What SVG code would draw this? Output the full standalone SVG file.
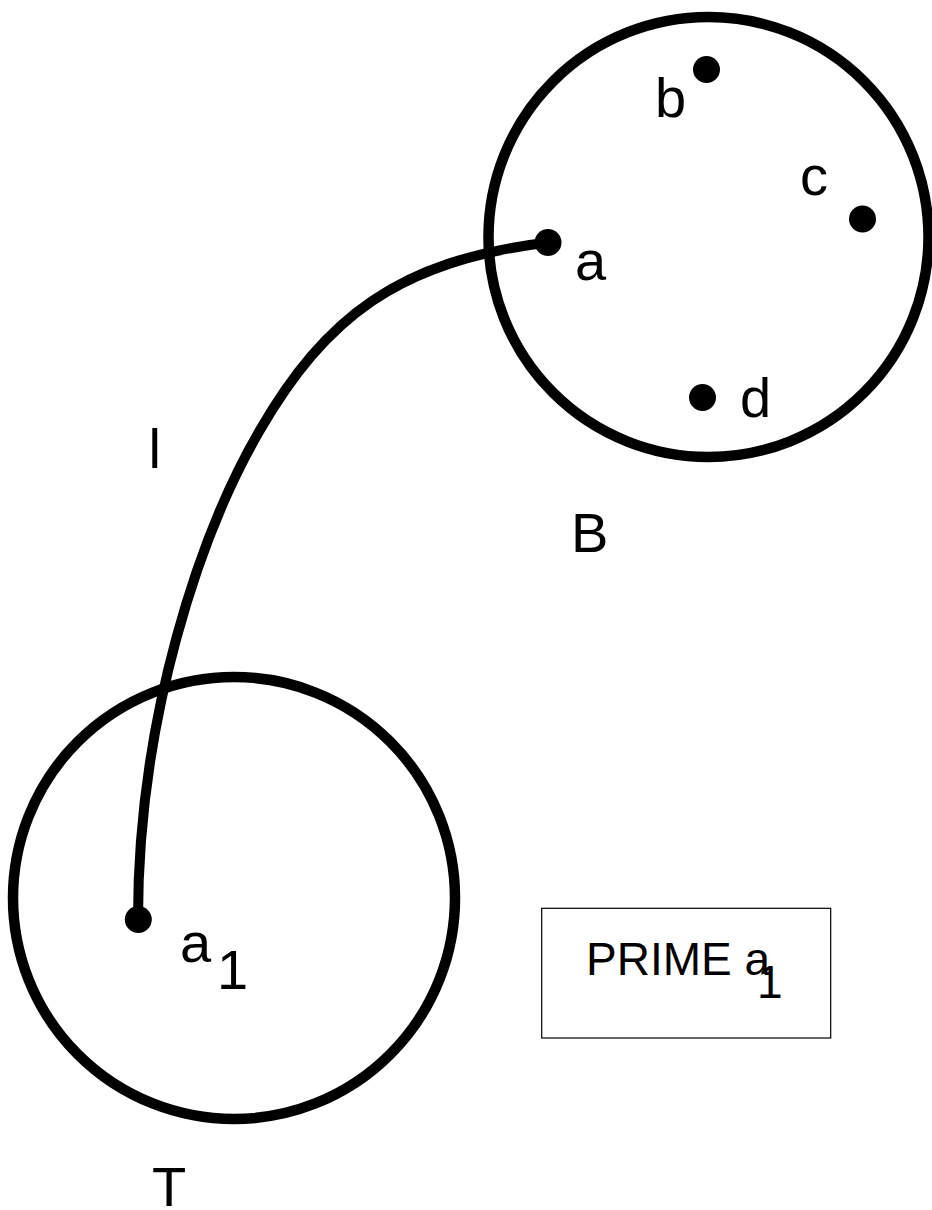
<svg xmlns="http://www.w3.org/2000/svg" width="932" height="1210" viewBox="0 0 932 1210">
<style>
.ring{fill:none;stroke:#000;stroke-width:10.5}
.dot{fill:#000}
.lbl{font-family:"Liberation Sans",Arial,sans-serif;font-size:56px;fill:#000}
.box{fill:#fff;stroke:#000;stroke-width:1.2}
.btxt{font-family:"Liberation Sans",Arial,sans-serif;font-size:46px;fill:#000}
.edge{fill:none;stroke:#000;stroke-width:10}
</style>
<rect width="932" height="1210" fill="#fff"/>
<g id="B">
<circle class="ring" cx="708.5" cy="237" r="220"/>
<text class="lbl" x="571" y="552">B</text>
</g>
<g id="T">
<circle class="ring" cx="234" cy="898" r="221"/>
<text class="lbl" x="152" y="1206">T</text>
</g>
<g id="connectors">
<path class="edge" d="M548,242.5 C398,260.5 325.5,317.7 260,430 C199.5,533.7 138,719 138,919"/>
<text class="lbl" x="148.5" y="468">l</text>
</g>
<g id="node-a">
<circle class="dot" cx="548" cy="242.5" r="13.5"/>
<text class="lbl" x="575" y="280">a</text>
</g>
<g id="node-b">
<circle class="dot" cx="706.5" cy="69.5" r="13.5"/>
<text class="lbl" x="655" y="117">b</text>
</g>
<g id="node-c">
<circle class="dot" cx="862.5" cy="219" r="13.5"/>
<text class="lbl" x="800" y="195">c</text>
</g>
<g id="node-d">
<circle class="dot" cx="702.5" cy="397.5" r="13.5"/>
<text class="lbl" x="740" y="417">d</text>
</g>
<g id="node-a1">
<circle class="dot" cx="138.3" cy="919.5" r="13.5"/>
<text class="lbl" x="180" y="962">a</text>
<text class="lbl" x="217" y="989">1</text>
</g>
<g id="prime">
<rect class="box" x="541.7" y="908.3" width="289" height="129.7"/>
<text class="btxt" x="586" y="975">PRIME a</text>
<text class="btxt" x="757" y="998">1</text>
</g>
</svg>
